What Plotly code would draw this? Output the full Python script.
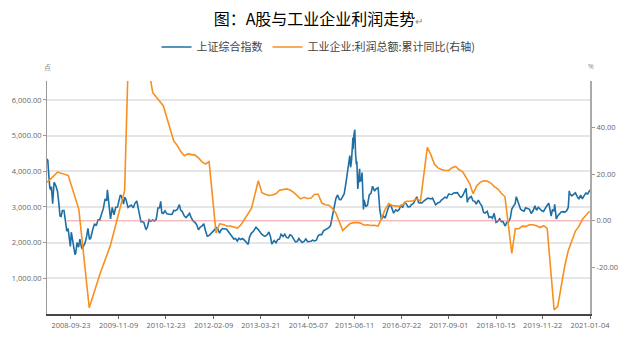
import plotly.graph_objects as go

# ---------------- data ----------------
sse_dates = [
 "2008-02-29","2008-03-07","2008-03-14","2008-03-18","2008-03-24","2008-03-31","2008-04-07","2008-04-18","2008-04-24","2008-04-30",
 "2008-05-15","2008-05-30","2008-06-13","2008-06-20","2008-06-30","2008-07-11","2008-07-25","2008-08-08","2008-08-18","2008-08-29",
 "2008-09-12","2008-09-18","2008-09-26","2008-10-10","2008-10-28","2008-11-04","2008-11-14","2008-11-28","2008-12-09","2008-12-23","2008-12-31",
 "2009-01-09","2009-01-23","2009-02-06","2009-02-17","2009-03-02","2009-03-13","2009-03-31","2009-04-15","2009-04-30","2009-05-15",
 "2009-05-29","2009-06-15","2009-06-30","2009-07-15","2009-07-29","2009-08-04","2009-08-14","2009-08-31","2009-09-15","2009-09-30",
 "2009-10-15","2009-10-30","2009-11-13","2009-11-24","2009-12-04","2009-12-22","2009-12-31",
 "2010-01-11","2010-01-29","2010-02-12","2010-02-26","2010-03-15","2010-03-31","2010-04-15","2010-04-30","2010-05-14","2010-05-21",
 "2010-05-31","2010-06-15","2010-06-30","2010-07-05","2010-07-15","2010-07-30","2010-08-13","2010-08-31","2010-09-15","2010-09-30",
 "2010-10-15","2010-10-29","2010-11-08","2010-11-17","2010-11-30","2010-12-15","2010-12-31",
 "2011-01-14","2011-01-31","2011-02-15","2011-02-28","2011-03-15","2011-03-31","2011-04-18","2011-04-29","2011-05-13","2011-05-31",
 "2011-06-15","2011-06-30","2011-07-15","2011-07-29","2011-08-15","2011-08-31","2011-09-15","2011-09-30","2011-10-14","2011-10-31",
 "2011-11-15","2011-11-30","2011-12-15","2011-12-30",
 "2012-01-13","2012-01-31","2012-02-15","2012-02-29","2012-03-15","2012-03-30","2012-04-13","2012-04-27","2012-05-15","2012-05-31",
 "2012-06-15","2012-06-29","2012-07-13","2012-07-31","2012-08-15","2012-08-31","2012-09-14","2012-09-28","2012-10-15","2012-10-31",
 "2012-11-15","2012-11-30","2012-12-03","2012-12-14","2012-12-31",
 "2013-01-15","2013-01-31","2013-02-08","2013-02-28","2013-03-15","2013-03-29","2013-04-15","2013-04-26","2013-05-15","2013-05-31",
 "2013-06-14","2013-06-25","2013-06-28","2013-07-15","2013-07-31","2013-08-15","2013-08-30","2013-09-13","2013-09-30","2013-10-15",
 "2013-10-31","2013-11-15","2013-11-29","2013-12-13","2013-12-31",
 "2014-01-15","2014-01-30","2014-02-14","2014-02-28","2014-03-14","2014-03-31","2014-04-15","2014-04-30","2014-05-15","2014-05-30",
 "2014-06-13","2014-06-30","2014-07-15","2014-07-31","2014-08-15","2014-08-29","2014-09-15","2014-09-30","2014-10-15","2014-10-31",
 "2014-11-14","2014-11-28","2014-12-15","2014-12-31",
 "2015-01-15","2015-01-30","2015-02-13","2015-02-27","2015-03-13","2015-03-31","2015-04-15","2015-04-30","2015-05-07","2015-05-15",
 "2015-05-27","2015-05-28","2015-06-05","2015-06-12","2015-06-19","2015-06-26","2015-06-30","2015-07-08","2015-07-15","2015-07-24",
 "2015-07-27","2015-08-07","2015-08-14","2015-08-26","2015-08-31","2015-09-15","2015-09-30","2015-10-15","2015-10-30","2015-11-13",
 "2015-11-30","2015-12-15","2015-12-31",
 "2016-01-04","2016-01-15","2016-01-28","2016-02-15","2016-02-29","2016-03-15","2016-03-31","2016-04-15","2016-04-29","2016-05-13",
 "2016-05-31","2016-06-15","2016-06-30","2016-07-15","2016-07-29","2016-08-15","2016-08-31","2016-09-14","2016-09-30","2016-10-14",
 "2016-10-31","2016-11-15","2016-11-29","2016-12-15","2016-12-30",
 "2017-01-13","2017-01-26","2017-02-15","2017-02-28","2017-03-15","2017-03-31","2017-04-14","2017-04-28","2017-05-11","2017-05-31",
 "2017-06-15","2017-06-30","2017-07-14","2017-07-31","2017-08-15","2017-08-31","2017-09-15","2017-09-29","2017-10-13","2017-10-31",
 "2017-11-15","2017-11-30","2017-12-15","2017-12-29",
 "2018-01-15","2018-01-29","2018-02-09","2018-02-14","2018-02-28","2018-03-15","2018-03-30","2018-04-13","2018-04-27","2018-05-15",
 "2018-05-31","2018-06-15","2018-06-29","2018-07-13","2018-07-31","2018-08-15","2018-08-31","2018-09-14","2018-09-28","2018-10-15",
 "2018-10-31","2018-11-15","2018-11-30","2018-12-14","2018-12-28",
 "2019-01-03","2019-01-15","2019-01-31","2019-02-15","2019-02-28","2019-03-15","2019-03-29","2019-04-08","2019-04-30","2019-05-15",
 "2019-05-31","2019-06-14","2019-06-28","2019-07-15","2019-07-31","2019-08-15","2019-08-30","2019-09-16","2019-09-30","2019-10-15",
 "2019-10-31","2019-11-15","2019-11-29","2019-12-16","2019-12-31",
 "2020-01-14","2020-01-23","2020-02-03","2020-02-14","2020-02-28","2020-03-05","2020-03-19","2020-03-31","2020-04-15","2020-04-30",
 "2020-05-15","2020-05-29","2020-06-15","2020-06-30","2020-07-09","2020-07-15","2020-07-31","2020-08-14","2020-08-31","2020-09-15",
 "2020-09-30","2020-10-15","2020-10-30","2020-11-13","2020-11-30","2020-12-15","2020-12-31","2021-01-04",
]
sse_values = [
 4348,4300,3962,3668,3550,3473,3570,3094,3583,3693,
 3600,3433,3024,2748,2736,2900,2900,2605,2320,2397,
 2079,1895,2293,2000,1664,1706,2000,1871,2100,1870,1821,
 1904,1990,2180,2402,2093,2130,2373,2530,2477,2640,
 2633,2780,2959,3225,3173,3478,3113,2667,2990,2779,
 2990,2995,3187,3338,3300,3080,3277,
 3212,2989,3018,3051,2975,3109,3166,2870,2697,2583,
 2592,2570,2398,2373,2425,2638,2597,2638,2605,2655,
 2971,2978,3159,2838,2820,2895,2808,
 2791,2790,2800,2905,2896,2928,3067,2911,2871,2743,
 2701,2762,2820,2701,2607,2567,2500,2359,2431,2468,
 2529,2333,2180,2199,
 2244,2292,2356,2428,2391,2263,2359,2396,2394,2373,
 2306,2225,2185,2103,2118,2047,2123,2086,2115,2069,
 2017,1980,1949,2150,2269,
 2310,2385,2432,2366,2278,2237,2195,2177,2218,2301,
 2162,1959,1979,2059,1994,2086,2098,2236,2175,2238,
 2141,2136,2220,2197,2116,
 2023,2033,2115,2056,2004,2033,2105,2026,2025,2039,
 2070,2048,2067,2201,2226,2217,2331,2364,2373,2420,
 2478,2683,2953,3235,
 3336,3210,3203,3310,3372,3748,4085,4442,4112,4309,
 4942,4620,5023,5166,4478,4193,4277,3507,3806,4070,
 3725,3744,3965,2927,3206,3005,3053,3338,3383,3580,
 3445,3511,3539,
 3296,2901,2656,2746,2688,2864,3004,3078,2938,2827,
 2917,2887,2930,3054,2979,3125,3085,3003,3005,3064,
 3100,3207,3283,3118,3104,
 3113,3159,3213,3242,3241,3223,3246,3155,3062,3117,
 3132,3192,3222,3273,3251,3361,3354,3349,3391,3393,
 3402,3317,3266,3307,
 3410,3523,3129,3199,3259,3291,3169,3159,3082,3192,
 3095,3022,2847,2831,2876,2705,2725,2681,2821,2568,
 2603,2668,2588,2594,2494,
 2464,2570,2585,2682,2941,3022,3091,3288,3078,2938,
 2899,2882,2979,2942,2932,2815,2886,3031,2905,2991,
 2929,2891,2872,2984,3050,
 3106,2977,2746,2917,2880,3071,2661,2750,2812,2860,
 2868,2852,2890,2985,3451,3361,3310,3360,3396,3295,
 3218,3332,3225,3310,3392,3367,3473,3480,
]

profit_dates = [
 "2008-02-29","2008-05-31","2008-08-31","2008-11-30",
 "2009-02-28","2009-05-31","2009-08-31","2009-11-30","2009-12-31",
 "2010-02-28","2010-05-31","2010-08-31","2010-11-30",
 "2011-02-28","2011-03-31","2011-04-30","2011-05-31","2011-06-30","2011-07-31","2011-08-31","2011-09-30","2011-10-31","2011-11-30","2011-12-31",
 "2012-02-29","2012-03-31","2012-04-30","2012-05-31","2012-06-30","2012-07-31","2012-08-31","2012-09-30","2012-10-31","2012-11-30","2012-12-31",
 "2013-02-28","2013-03-31","2013-04-30","2013-05-31","2013-06-30","2013-07-31","2013-08-31","2013-09-30","2013-10-31","2013-11-30","2013-12-31",
 "2014-02-28","2014-03-31","2014-04-30","2014-05-31","2014-06-30","2014-07-31","2014-08-31","2014-09-30","2014-10-31","2014-11-30","2014-12-31",
 "2015-02-28","2015-03-31","2015-04-30","2015-05-31","2015-06-30","2015-07-31","2015-08-31","2015-09-30","2015-10-31","2015-11-30","2015-12-31",
 "2016-02-29","2016-03-31","2016-04-30","2016-05-31","2016-06-30","2016-07-31","2016-08-31","2016-09-30","2016-10-31","2016-11-30","2016-12-31",
 "2017-02-28","2017-03-31","2017-04-30","2017-05-31","2017-06-30","2017-07-31","2017-08-31","2017-09-30","2017-10-31","2017-11-30","2017-12-31",
 "2018-02-28","2018-03-31","2018-04-30","2018-05-31","2018-06-30","2018-07-31","2018-08-31","2018-09-30","2018-10-31","2018-11-30","2018-12-31",
 "2019-02-28","2019-03-31","2019-04-30","2019-05-31","2019-06-30","2019-07-31","2019-08-31","2019-09-30","2019-10-31","2019-11-30","2019-12-31",
 "2020-02-29","2020-03-31","2020-04-30","2020-05-31","2020-06-30","2020-07-31","2020-08-31","2020-09-30","2020-10-31","2020-11-30","2020-12-31",
]
profit_values = [
 16.5,20.9,19.4,4.9,
 -37.3,-22.9,-10.4,7.8,13.0,
 119.7,81.6,55.0,49.4,
 34.3,32.3,29.7,27.9,28.7,28.3,28.2,27.0,25.3,24.4,25.4,
 -5.2,-1.3,-1.6,-2.2,-2.2,-2.7,-3.1,-1.8,0.5,3.0,5.3,
 17.2,12.1,11.4,10.9,11.1,11.6,13.1,13.5,13.7,13.2,12.2,
 9.4,10.1,9.6,9.8,11.4,11.4,7.6,6.9,6.7,5.3,3.3,
 -4.2,-2.7,-1.3,-0.8,-0.7,-1.0,-1.9,-1.7,-2.0,-1.9,-2.3,
 4.8,7.4,6.5,6.4,6.2,6.9,8.4,8.4,8.6,9.4,8.5,
 31.5,28.3,24.4,22.7,22.0,21.6,21.6,22.8,23.3,21.9,21.0,
 16.1,11.6,15.0,16.5,17.2,17.1,16.2,14.7,13.6,11.8,10.3,
 -14.0,-3.3,-3.4,-2.3,-2.4,-1.7,-1.7,-2.1,-2.9,-2.1,-3.3,
 -38.3,-36.7,-27.4,-19.3,-12.8,-8.1,-4.4,-2.4,0.7,2.4,4.1,
]

zero_dates = ["2008-08-18", "2021-01-04"]
zero_values = [0, 0]

x_tick_dates = ["2008-09-23","2009-11-09","2010-12-23","2012-02-09","2013-03-21","2014-05-07",
                "2015-06-11","2016-07-22","2017-09-01","2018-10-15","2019-11-22","2021-01-04"]
left_ticks = [1000, 2000, 3000, 4000, 5000, 6000]
left_tick_text = ["1,000.00", "2,000.00", "3,000.00", "4,000.00", "5,000.00", "6,000.00"]
right_ticks = [-20, 0, 20, 40]
right_tick_text = ["-20.00", "0.00", "20.00", "40.00"]

BLUE = "#1f6fa5"
ORANGE = "#f7901e"
TICKFONT = dict(family="Open Sans, Noto Sans CJK SC, sans-serif", size=7.5, color="#666666")

PLOT_TOP, PLOT_BOTTOM = 81, 314
PLOT_H = PLOT_BOTTOM - PLOT_TOP

fig = go.Figure()
fig.add_trace(go.Scatter(x=zero_dates, y=zero_values, mode="lines", yaxis="y2",
                         line=dict(color="rgba(236,120,120,0.75)", width=1),
                         showlegend=False, hoverinfo="skip"))
fig.add_trace(go.Scatter(x=sse_dates, y=sse_values, mode="lines", name="上证综合指数",
                         line=dict(color=BLUE, width=1.6)))
fig.add_trace(go.Scatter(x=profit_dates, y=profit_values, mode="lines", yaxis="y2",
                         name="工业企业:利润总额:累计同比(右轴)",
                         line=dict(color=ORANGE, width=1.6)))

fig.update_layout(
    width=630, height=352,
    margin=dict(l=47, r=32, t=PLOT_TOP, b=352 - PLOT_BOTTOM),
    paper_bgcolor="white", plot_bgcolor="white",
    title=dict(text="图：A股与工业企业利润走势<span style='font-size:10px;color:#888888'>↵</span>",
               x=0.5, xref="paper", y=1 - 19/352, yref="container", yanchor="middle",
               font=dict(family="Noto Sans CJK SC", size=16, color="#000000")),
    legend=dict(orientation="h", x=0.5, xanchor="center", y=1 - 47/352, yref="container",
                yanchor="middle", font=dict(family="Noto Sans CJK SC", size=11, color="#444444"),
                itemwidth=30, tracegroupgap=0),
    xaxis=dict(type="date", range=["2008-02-29", "2021-01-04"],
               tickvals=x_tick_dates, ticktext=x_tick_dates,
               showgrid=False, showline=True, linecolor="#4a4444", linewidth=2,
               ticks="outside", ticklen=3, tickcolor="#666666", tickfont=TICKFONT, zeroline=False),
    yaxis=dict(range=[0, 6530], tickvals=left_ticks, ticktext=left_tick_text,
               showgrid=True, gridcolor="#e6e6e6", gridwidth=1.5,
               showline=True, linecolor="#999999", linewidth=1,
               ticks="outside", ticklen=3, tickcolor="#999999", tickfont=TICKFONT, zeroline=False),
    yaxis2=dict(range=[-40, 60], overlaying="y", side="right",
                tickvals=right_ticks, ticktext=right_tick_text, showgrid=False,
                showline=True, linecolor="#aaaaaa", linewidth=2,
                ticks="outside", ticklen=3, tickcolor="#999999", tickfont=TICKFONT, zeroline=False),
    annotations=[
        dict(text="点", x=0, xref="paper", xanchor="center", y=1 + (PLOT_TOP - 67) / PLOT_H,
             yref="paper", yanchor="middle", showarrow=False,
             font=dict(family="Noto Sans CJK SC", size=7, color="#888888")),
        dict(text="%", x=1.002, xref="paper", xanchor="center", y=1 + (PLOT_TOP - 67) / PLOT_H,
             yref="paper", yanchor="middle", showarrow=False,
             font=dict(family="Open Sans", size=7, color="#888888")),
    ],
)
fig.write_html("out.html")
